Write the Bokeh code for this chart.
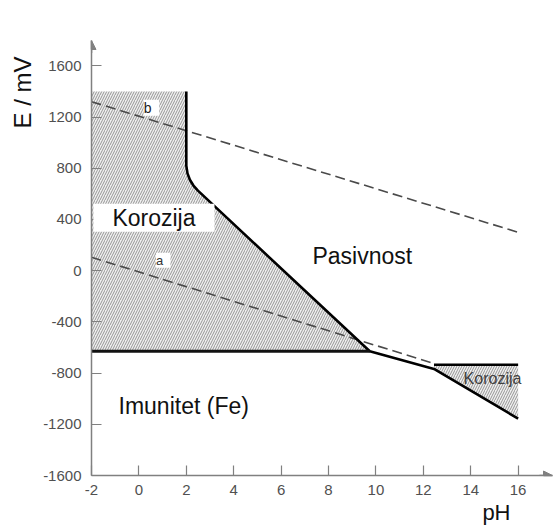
from bokeh.plotting import figure
from bokeh.models import Label, Arrow, NormalHead, FixedTicker, Range1d, Title
from bokeh.embed import file_html
from bokeh.resources import INLINE

ph_ticks = list(range(-2, 17, 2))
e_ticks = list(range(-1600, 1601, 400))

# acidic corrosion region (Fe2+)
corr1_ph = [-2, 2, 2, 2.05, 2.15, 2.3, 2.49, 9.74, -2]
corr1_e = [1400, 1400, 820, 760, 710, 665, 625, -630, -630]
# alkaline corrosion region (HFeO2-)
corr2_ph = [12.45, 16, 16, 12.45]
corr2_e = [-735, -735, -1156, -768]
# passivity boundary
wall_ph = [2, 2, 2.05, 2.15, 2.3, 2.49, 9.74, 12.45, 16]
wall_e = [1400, 820, 760, 710, 665, 625, -630, -768, -1156]
# immunity boundary
imm_ph = [-2, 9.74]
imm_e = [-630, -630]
top2_ph = [12.45, 16]
top2_e = [-735, -735]
# water stability lines
a_ph = [-2, 12.45]
a_e = [105, -725]
b_ph = [-2, 16]
b_e = [1320, 300]

p = figure(width=554, height=525, output_backend="svg", toolbar_location=None,
           x_range=Range1d(-2, 17.45), y_range=Range1d(-1600, 1798),
           min_border_left=91, min_border_right=2, min_border_top=40, min_border_bottom=50)
p.outline_line_color = None
p.xgrid.visible = False
p.ygrid.visible = False
p.background_fill_color = "white"

axc = "#808080"
for ax in (p.xaxis[0], p.yaxis[0]):
    ax.axis_line_color = axc
    ax.axis_line_width = 1.5
    ax.major_tick_line_color = axc
    ax.major_tick_line_width = 1.2
    ax.major_tick_in = 10
    ax.major_tick_out = 0
    ax.minor_tick_line_color = None
    ax.major_label_text_font = "Liberation Sans"
    ax.major_label_text_font_size = "15px"
    ax.major_label_text_color = "#505050"
p.xaxis.ticker = FixedTicker(ticks=ph_ticks)
p.yaxis.ticker = FixedTicker(ticks=e_ticks)
p.xaxis.major_label_overrides = {t: str(t) for t in ph_ticks}
p.yaxis.major_label_overrides = {t: str(t) for t in e_ticks}
p.xaxis.major_label_standoff = 9
p.yaxis.major_label_standoff = 10

p.patch(corr1_ph, corr1_e, fill_color="#f0f0f0", line_color=None,
        hatch_pattern="/", hatch_color="#8a8a8a", hatch_scale=5, hatch_weight=0.9)
p.patch(corr2_ph, corr2_e, fill_color="#f0f0f0", line_color=None,
        hatch_pattern="/", hatch_color="#8a8a8a", hatch_scale=5, hatch_weight=0.9)

p.line(a_ph, a_e, line_color="#4a4a4a", line_width=1.6, line_dash="10 5")
p.line(b_ph, b_e, line_color="#4a4a4a", line_width=1.6, line_dash="10 5")

p.line(wall_ph, wall_e, line_color="black", line_width=2.6)
p.line(imm_ph, imm_e, line_color="#111111", line_width=3)
p.line(top2_ph, top2_e, line_color="black", line_width=2.6)

font = "Liberation Sans"
def lab(x, y, t, size, color="#111111", bg=None, **kw):
    l = Label(x=x, y=y, text=t, text_font=font, text_font_size=size, text_color=color,
              background_fill_color=bg, **kw)
    p.add_layout(l)
    return l

lab(-1.92, 305, "Korozija", "23px", bg="white", padding=(19, 1))
lab(7.32, 16, "Pasivnost", "23px")
lab(-0.86, -1156, "Imunitet (Fe)", "23px")
lab(13.7, -906, "Korozija", "16px", color="#404040")
lab(0.2, 1211, " b ", "14px", color="#222222", bg="white")
lab(0.72, 23, " a ", "13px", color="#333333", bg="white")

ylab = Title(text="E / mV", align="right", offset=16, standoff=10, text_font=font,
             text_font_size="24px", text_font_style="normal", text_color="#111111")
p.add_layout(ylab, "left")
xlab = Title(text="pH", align="right", offset=42, standoff=0, text_font=font,
             text_font_size="22px", text_font_style="normal", text_color="#111111")
p.add_layout(xlab, "below")

p.add_layout(Arrow(end=NormalHead(size=9, fill_color=axc, line_color=axc),
                   x_start=16.9, y_start=-1600, x_end=17.45, y_end=-1600,
                   line_color=axc, line_width=1.5))
p.add_layout(Arrow(end=NormalHead(size=9, fill_color=axc, line_color=axc),
                   x_start=-2, y_start=1700, x_end=-2, y_end=1798,
                   line_color=axc, line_width=1.5))

open("out.html", "w").write(file_html(p, INLINE))
